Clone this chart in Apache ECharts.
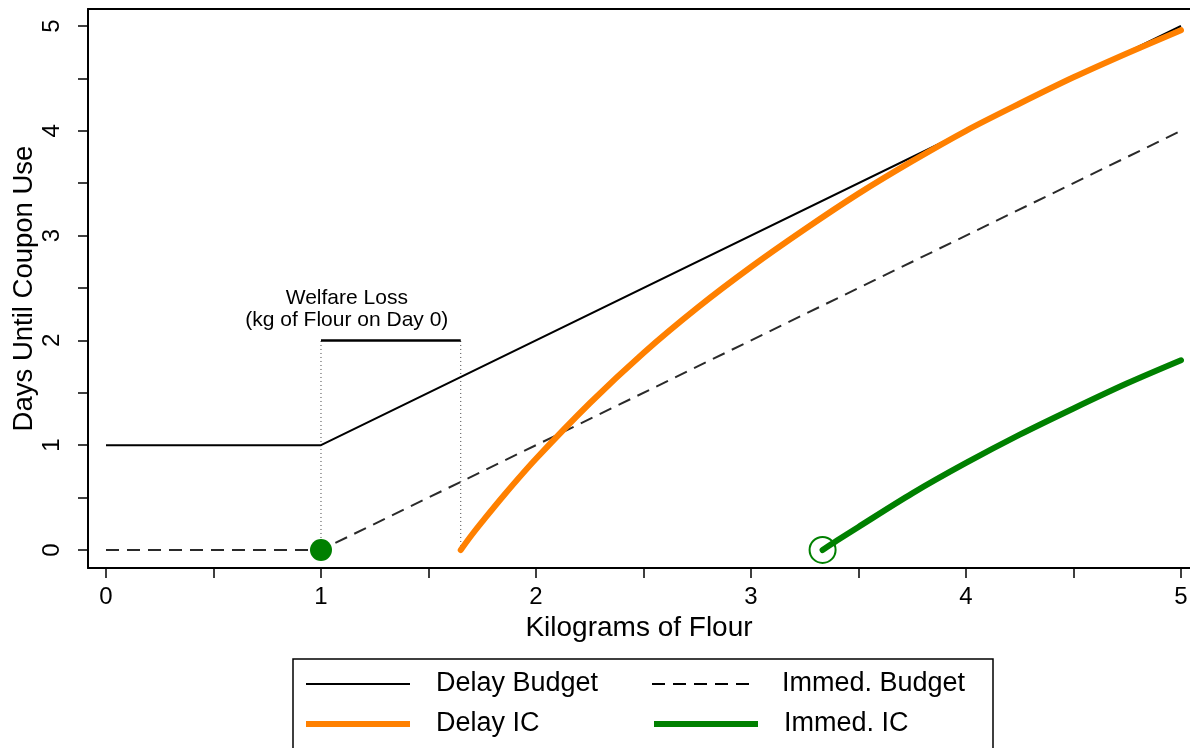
<!DOCTYPE html>
<html>
<head>
<meta charset="utf-8">
<script src="https://cdn.jsdelivr.net/npm/echarts@6/dist/echarts.min.js"></script>
<style>
html,body{margin:0;padding:0;background:#fff;}
#chart{width:1190px;height:748px;}
</style>
</head>
<body>
<div id="chart"></div>
<script>
// ---- data ----
const xTickValues = [0, 0.5, 1, 1.5, 2, 2.5, 3, 3.5, 4, 4.5, 5];
const xLabelValues = [0, 1, 2, 3, 4, 5];
const yTickValues = [0, 0.5, 1, 1.5, 2, 2.5, 3, 3.5, 4, 4.5, 5];
const yLabelValues = [0, 1, 2, 3, 4, 5];

const delayBudget = [[0, 1], [1, 1], [5, 5]];
const immedBudget = [[0, 0], [1, 0], [5, 4]];
const delayIC = [[1.65, 0], [1.70, 0.14], [1.75, 0.27], [1.85, 0.52], [2, 0.87], [2.25, 1.40],
  [2.5, 1.88], [2.75, 2.31], [3, 2.70], [3.25, 3.06], [3.5, 3.40], [3.75, 3.71], [4, 4.0],
  [4.25, 4.26], [4.5, 4.51], [4.75, 4.74], [5, 4.96]];
const immedIC = [[3.333, 0], [3.4, 0.09], [3.5, 0.22], [3.75, 0.54], [4, 0.83], [4.25, 1.10],
  [4.5, 1.35], [4.75, 1.59], [5, 1.81]];
const welfareLeft = [[1, 0], [1, 2]];
const welfareRight = [[1.65, 0], [1.65, 2]];
const welfareBar = [[1, 2], [1.65, 2]];
const welfareLabelPos = [[1.12, 2]];
const immedOptimum = [[1, 0]];
const delayOptimum = [[3.333, 0]];
const legendNames = ['Delay Budget', 'Immed. Budget', 'Delay IC', 'Immed. IC'];

const FONT = 'Liberation Sans, Arial, Helvetica, sans-serif';
const chart = echarts.init(document.getElementById('chart'));

chart.setOption({
  animation: false,
  backgroundColor: '#fff',
  grid: { left: 88, top: 9, right: 0, bottom: 180, show: false, containLabel: false, outerBoundsMode: 'none' },
  xAxis: [{
    type: 'value',
    min: -0.0837, max: 5.0419,
    name: 'Kilograms of Flour',
    nameLocation: 'middle', nameGap: 46, nameMoveOverlap: false,
    nameTextStyle: { fontFamily: FONT, fontSize: 28, color: '#000' },
    axisLine: { show: true, onZero: false, lineStyle: { color: '#000', width: 2 } },
    axisTick: { show: true, customValues: xTickValues, length: 10, lineStyle: { color: '#000', width: 1.5 } },
    axisLabel: { show: true, customValues: xLabelValues, margin: 17, fontFamily: FONT, fontSize: 24, color: '#000',
      formatter: v => String(v) },
    splitLine: { show: false }
  }, {
    type: 'value', position: 'top',
    min: -0.0837, max: 5.0419,
    axisLine: { show: true, onZero: false, lineStyle: { color: '#000', width: 2 } },
    axisTick: { show: false }, axisLabel: { show: false }, splitLine: { show: false }
  }],
  yAxis: {
    type: 'value',
    min: -0.172, max: 5.162,
    name: 'Days Until Coupon Use',
    nameLocation: 'middle', nameGap: 50, nameRotate: 90, nameMoveOverlap: false,
    nameTextStyle: { fontFamily: FONT, fontSize: 27.5, color: '#000' },
    axisLine: { show: true, onZero: false, lineStyle: { color: '#000', width: 2 } },
    axisTick: { show: true, customValues: yTickValues, length: 10, lineStyle: { color: '#000', width: 1.5 } },
    axisLabel: { show: true, customValues: yLabelValues, rotate: 90, margin: 24, fontFamily: FONT, fontSize: 24, color: '#000',
      formatter: v => String(v) },
    splitLine: { show: false }
  },
  legend: {
    data: [
      { name: legendNames[0], itemStyle: { opacity: 0 }, lineStyle: { color: '#000', width: 2, type: 'solid', cap: 'butt', opacity: 1 } },
      { name: legendNames[1], itemStyle: { opacity: 0 }, lineStyle: { color: '#000', width: 2, type: [13, 8], cap: 'butt', opacity: 1 } },
      { name: legendNames[2], itemStyle: { opacity: 0 }, lineStyle: { color: '#FF8000', width: 6, type: 'solid', cap: 'butt', opacity: 1 } },
      { name: legendNames[3], itemStyle: { opacity: 0 }, lineStyle: { color: '#008000', width: 6, type: 'solid', cap: 'butt', opacity: 1 } }
    ],
    left: 293, top: 659, width: 700,
    orient: 'horizontal',
    padding: [8, 0, 20, 10],
    itemGap: 6,
    itemWidth: 104, itemHeight: 14,
    borderColor: '#000', borderWidth: 1.5,
    backgroundColor: '#fff',
    selectedMode: false,
    textStyle: { fontFamily: FONT, fontSize: 27, color: '#000', lineHeight: 34, width: 209, padding: [0, 0, 0, 21] }
  },
  series: [
    {
      name: 'welfareLeft', type: 'line', data: welfareLeft, symbol: 'none', silent: true, z: 1,
      lineStyle: { color: '#444', width: 1, type: [1, 3] }
    },
    {
      name: 'welfareRight', type: 'line', data: welfareRight, symbol: 'none', silent: true, z: 1,
      lineStyle: { color: '#444', width: 1, type: [1, 3] }
    },
    {
      name: 'Delay Budget', type: 'line', data: delayBudget, symbol: 'none', z: 2,
      lineStyle: { color: '#000', width: 2 }, itemStyle: { color: '#000' }
    },
    {
      name: 'Immed. Budget', type: 'line', data: immedBudget, symbol: 'none', z: 2,
      lineStyle: { color: '#2a2a2a', width: 2, type: [13, 8] }, itemStyle: { color: '#2a2a2a' }
    },
    {
      name: 'welfareBar', type: 'line', data: welfareBar, symbol: 'none', silent: true, z: 2,
      lineStyle: { color: '#000', width: 2.5 }
    },
    {
      name: 'welfareLabel', type: 'scatter', data: welfareLabelPos, symbolSize: 0, silent: true, z: 3,
      itemStyle: { color: '#000', opacity: 1 },
      label: {
        show: true, position: 'top', distance: 9,
        formatter: 'Welfare Loss\n(kg of Flour on Day 0)',
        fontFamily: FONT, fontSize: 21, lineHeight: 22, color: '#000', align: 'center'
      }
    },
    {
      name: 'Delay IC', type: 'line', data: delayIC, symbol: 'none', smooth: 0.3, z: 4,
      lineStyle: { color: '#FF8000', width: 6, cap: 'round', join: 'round' }, itemStyle: { color: '#FF8000' }
    },
    {
      name: 'Immed. IC', type: 'line', data: immedIC, symbol: 'none', smooth: 0.3, z: 4,
      lineStyle: { color: '#008000', width: 6, cap: 'round', join: 'round' }, itemStyle: { color: '#008000' }
    },
    {
      name: 'immedOptimum', type: 'scatter', data: immedOptimum, symbol: 'circle', symbolSize: 22, silent: true, z: 5,
      itemStyle: { color: '#008000', opacity: 1 }
    },
    {
      name: 'delayOptimum', type: 'scatter', data: delayOptimum, symbol: 'circle', symbolSize: 26, silent: true, z: 3,
      itemStyle: { color: 'rgba(255,255,255,0)', borderColor: '#008000', borderWidth: 2, opacity: 1 }
    }
  ]
});
</script>
</body>
</html>
